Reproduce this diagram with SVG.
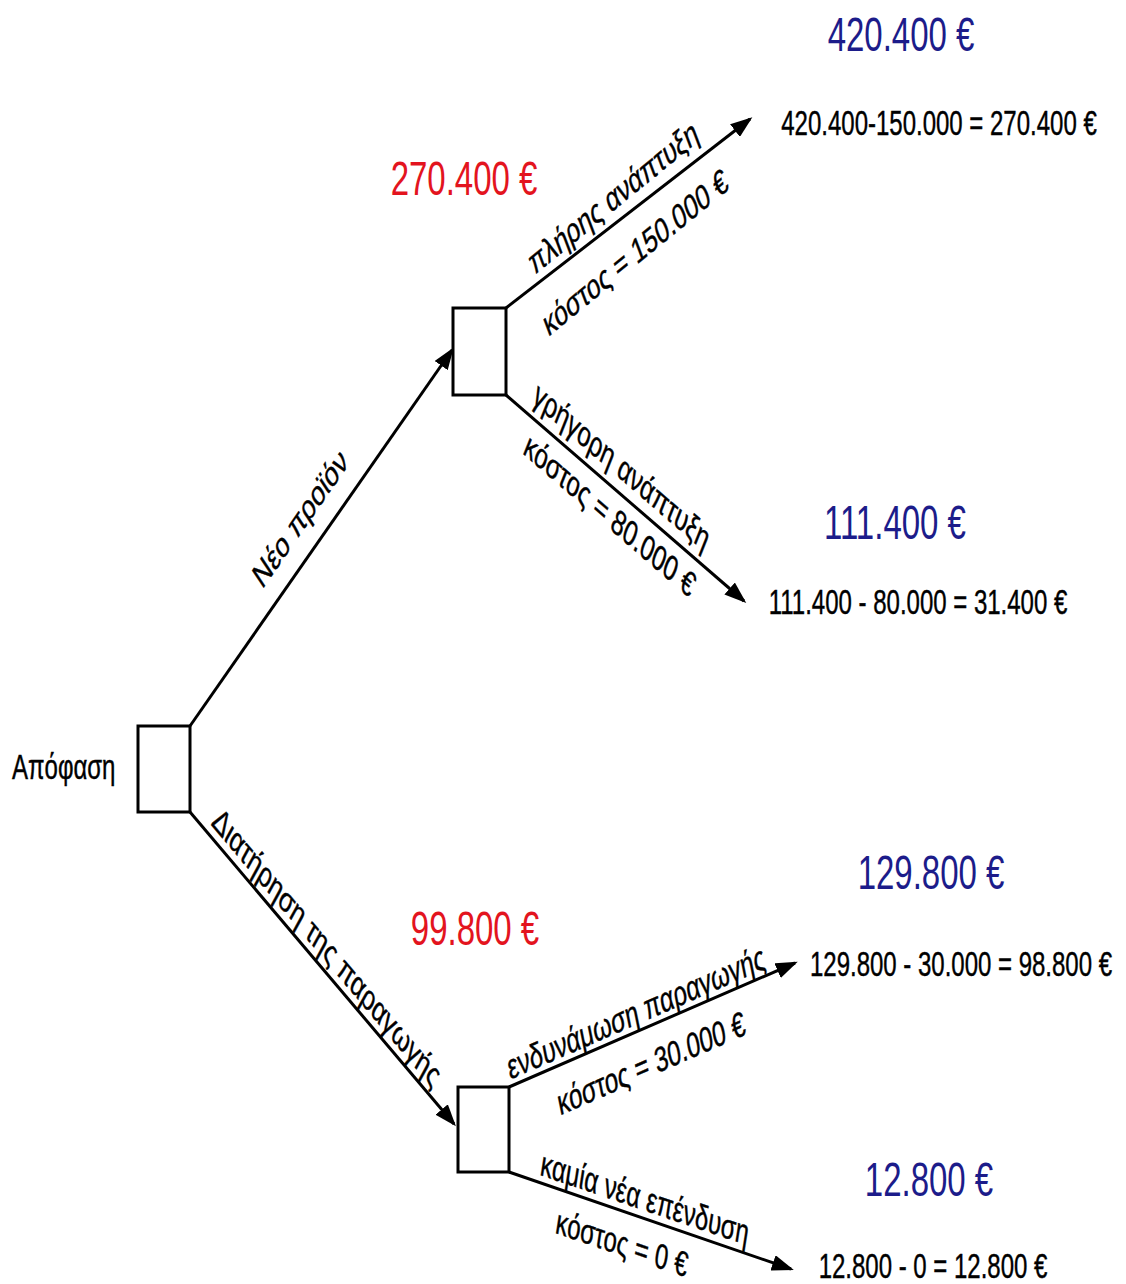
<svg xmlns="http://www.w3.org/2000/svg" width="1126" height="1284" viewBox="0 0 1126 1284">
  <style>
    text { font-family: "Liberation Sans", Arial, sans-serif; }
    .box { fill: #ffffff; stroke: #000000; stroke-width: 3; }
    .edge { fill: none; stroke: #000000; stroke-width: 3; marker-end: url(#arrow); }
    .lbl { font-size: 24px; fill: #000000; text-anchor: middle; stroke: #000000; stroke-width: 0.3; }
    .calc { font-size: 24px; fill: #000000; text-anchor: middle; stroke: #000000; stroke-width: 0.3; }
    .val { font-size: 33px; text-anchor: middle; }
    .blue { fill: #1c1c8a; }
    .red { fill: #e3141e; }
  </style>
  <defs>
    <marker id="arrow" markerUnits="userSpaceOnUse" markerWidth="22" markerHeight="16" refX="19" refY="8" orient="auto">
      <path d="M0,0 L22,8 L0,16 z" fill="#000000"/>
    </marker>
  </defs>

  <!-- connectors -->
  <g id="connectors">
    <line class="edge" x1="190" y1="726" x2="452" y2="350"/>
    <line class="edge" x1="190" y1="812" x2="454" y2="1124"/>
    <line class="edge" x1="506" y1="308" x2="750" y2="119"/>
    <line class="edge" x1="506" y1="395" x2="744" y2="601"/>
    <line class="edge" x1="509" y1="1087" x2="795" y2="963"/>
    <line class="edge" x1="509" y1="1172" x2="791" y2="1269"/>
  </g>

  <!-- branch labels, set along each connector -->
  <g id="edge-labels">
    <text class="lbl" transform="translate(300,518) scale(1,1.47) rotate(-44.5)" dy="0.35em">Νέο προϊόν</text>
    <text class="lbl" transform="translate(327,947) scale(1,1.47) rotate(39)" dy="0.35em">Διατήρηση της παραγωγής</text>
    <text class="lbl" transform="translate(613,197) scale(1,1.47) rotate(-29)" dy="0.35em">πλήρης ανάπτυξη</text>
    <text class="lbl" transform="translate(635,252) scale(1,1.47) rotate(-29)" dy="0.35em">κόστος = 150.000 €</text>
    <text class="lbl" transform="translate(622,466) scale(1,1.47) rotate(30.5)" dy="0.35em">γρήγορη ανάπτυξη</text>
    <text class="lbl" transform="translate(610,515) scale(1,1.47) rotate(30.5)" dy="0.35em">κόστος = 80.000 €</text>
    <text class="lbl" transform="translate(636,1012) scale(1,1.47) rotate(-16.5)" dy="0.35em">ενδυνάμωση παραγωγής</text>
    <text class="lbl" transform="translate(651,1063) scale(1,1.47) rotate(-16.5)" dy="0.35em">κόστος = 30.000 €</text>
    <text class="lbl" transform="translate(645,1198) scale(1,1.47) rotate(13)" dy="0.35em">καμία νέα επένδυση</text>
    <text class="lbl" transform="translate(622,1243) scale(1,1.47) rotate(13)" dy="0.35em">κόστος = 0 €</text>
  </g>

  <!-- decision nodes -->
  <g id="decision">
    <rect class="box" x="138" y="726" width="52" height="86"/>
    <text font-size="24" stroke="#000000" stroke-width="0.3" transform="translate(12,779) scale(1,1.47)">Απόφαση</text>
  </g>
  <g id="new-product">
    <rect class="box" x="453" y="308" width="53" height="87"/>
    <text class="val red" transform="translate(464,195) scale(1,1.47)">270.400 €</text>
  </g>
  <g id="keep-production">
    <rect class="box" x="458" y="1087" width="51" height="85"/>
    <text class="val red" transform="translate(475,945) scale(1,1.47)">99.800 €</text>
  </g>

  <!-- outcomes -->
  <g id="full-development">
    <text class="val blue" transform="translate(901,51) scale(1,1.47)">420.400 €</text>
    <text class="calc" transform="translate(939,135) scale(1,1.47)">420.400-150.000 = 270.400 €</text>
  </g>
  <g id="fast-development">
    <text class="val blue" transform="translate(895,539) scale(1,1.47)">111.400 €</text>
    <text class="calc" transform="translate(918,614) scale(1,1.47)">111.400 - 80.000 = 31.400 €</text>
  </g>
  <g id="strengthen-production">
    <text class="val blue" transform="translate(931,889) scale(1,1.47)">129.800 €</text>
    <text class="calc" transform="translate(961,976) scale(1,1.47)">129.800 - 30.000 = 98.800 €</text>
  </g>
  <g id="no-investment">
    <text class="val blue" transform="translate(929,1196) scale(1,1.47)">12.800 €</text>
    <text class="calc" transform="translate(933,1278) scale(1,1.47)">12.800 - 0 = 12.800 €</text>
  </g>
</svg>
